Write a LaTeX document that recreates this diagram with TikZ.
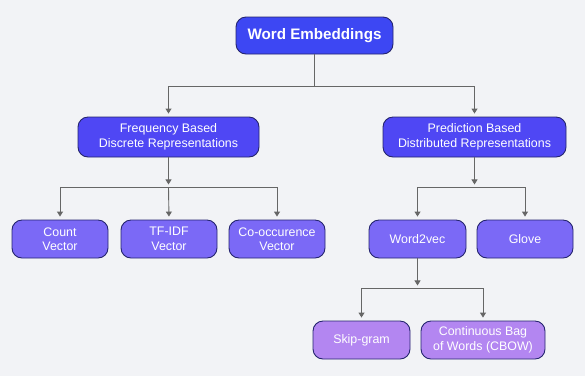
\documentclass[tikz,border=0pt]{standalone}
\usepackage{fontspec}
\setmainfont{Liberation Sans}
\usetikzlibrary{arrows.meta}
\definecolor{bgc}{HTML}{F2F3F6}
\definecolor{edgec}{HTML}{24246E}
\definecolor{rootc}{HTML}{3D47F3}
\definecolor{mainc}{HTML}{4F47F4}
\definecolor{subc}{HTML}{7B69F6}
\definecolor{leafc}{HTML}{B386F1}
\definecolor{linkc}{HTML}{666666}

\begin{document}
\begin{tikzpicture}[x=1pt,y=-1pt,
    box/.style={draw=edgec, line width=0.9pt, rounded corners=10pt, text=white,
        align=center, inner sep=0pt, minimum height=38pt,
        font=\fontsize{12.4}{14.5}\selectfont},
    rootbox/.style={box, fill=rootc, minimum width=157pt, minimum height=37pt,
        font=\fontsize{15.2}{18}\selectfont\bfseries},
    mainbox/.style={box, fill=mainc, minimum height=40pt},
    subbox/.style={box, fill=subc, minimum width=96pt},
    leafbox/.style={box, fill=leafc},
    link/.style={draw=linkc, line width=0.9pt, -{Triangle[width=6pt,length=5pt]}, shorten >=3pt}]
	    \fill[bgc] (0,0) rectangle (585,376);
	    % levels of the tree
	    \node[rootbox] (root) at (314.5,35.5) {Word Embeddings};
	    \node[mainbox, minimum width=181pt] (freq) at (168.5,137) {Frequency Based\\Discrete Representations};
	    \node[mainbox, minimum width=183pt] (pred) at (474.5,137) {Prediction Based\\Distributed Representations};
	    \node[subbox] (count) at (60,239) {Count\\Vector};
	    \node[subbox] (tfidf) at (169,239) {TF-IDF\\Vector};
	    \node[subbox] (cooc) at (277,239) {Co-occurence\\Vector};
	    \node[subbox, minimum width=97pt] (wvec) at (417.5,239) {Word2vec};
	    \node[subbox] (glove) at (525,239) {Glove};
	    \node[leafbox, minimum width=97pt] (skip) at (361.5,340) {Skip-gram};
	    \node[leafbox, minimum width=124pt] (cbow) at (483,340) {Continuous Bag\\of Words (CBOW)};
	    % bus points under each parent
	    \coordinate (rbus) at ([yshift=-32pt]root.south);
	    \coordinate (fbus) at ([yshift=-30pt]freq.south);
	    \coordinate (pbus) at ([yshift=-30pt]pred.south);
	    \coordinate (wbus) at ([yshift=-30pt]wvec.south);
	    % connectors
	    \draw[link] (root.south) -- (rbus) -| (freq.north);
	    \draw[link] (rbus) -| (pred.north);
	    \draw[link] (freq.south) -- (fbus);
	    \draw[link] (fbus) -| (count.north);
	    \draw[link] (fbus) -- (tfidf.north);
	    \draw[link] (fbus) -| (cooc.north);
	    \draw[link] (pred.south) -- (pbus);
	    \draw[link] (wvec.north |- pbus) -- (wvec.north);
	    \draw[link] (wvec.north |- pbus) -| (glove.north);
	    \draw[link] (wvec.south) -- (wbus);
	    \draw[link] (wbus) -| (skip.north);
	    \draw[link] (wbus) -| (cbow.north);
	\end{tikzpicture}
\end{document}
